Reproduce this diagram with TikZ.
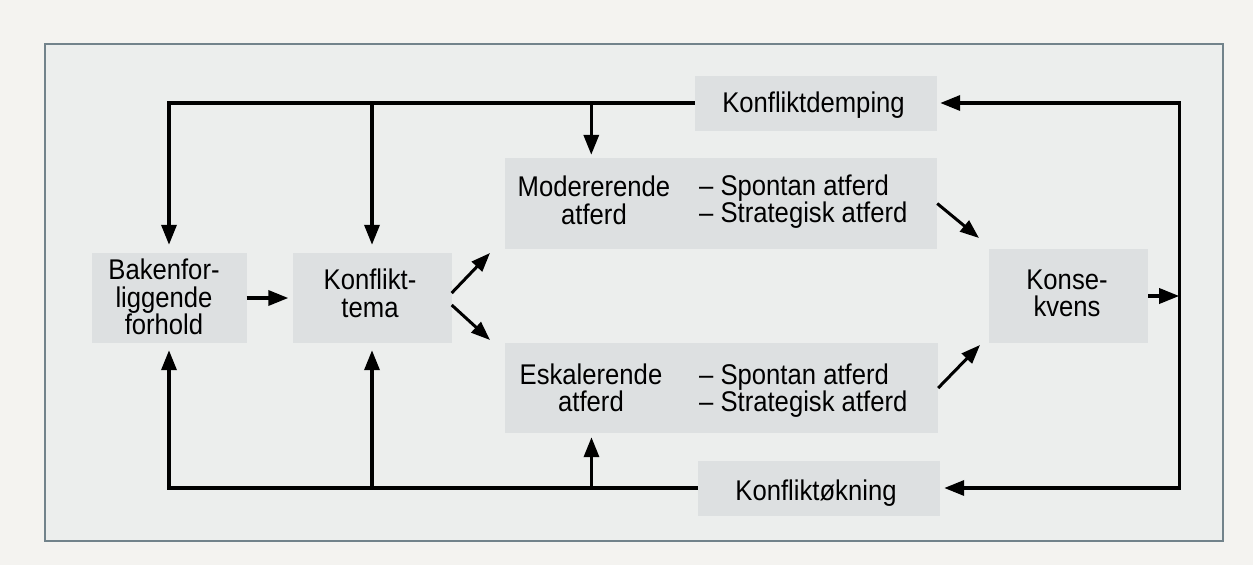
\documentclass[tikz,border=0pt]{standalone}
\usepackage{fontspec}
\setmainfont{Liberation Sans}[FakeStretch=0.9]
\usetikzlibrary{arrows.meta,calc}
\definecolor{pagebg}{HTML}{F4F3F0}
\definecolor{framebg}{HTML}{ECEEED}
\definecolor{framecol}{HTML}{72838B}
\definecolor{boxbg}{HTML}{DDE0E1}
\begin{document}
\begin{tikzpicture}[x=1pt,y=-1pt,
  box/.style={fill=boxbg,inner sep=0pt},
  lbl/.style={font=\fontsize{28.5}{27.5}\selectfont,align=center,inner sep=0pt},
  conn/.style={line width=3.4pt,-{Triangle[length=20pt,width=15pt]}},
  diag/.style={line width=3pt,-{Triangle[length=19pt,width=14pt]}}
]
\fill[pagebg] (0,0) rectangle (1253,565);
\useasboundingbox (0,0) rectangle (1253,565);
\draw[framecol,line width=2pt,fill=framebg] (45,44) rectangle (1223,541);

% boxes
\node[box,minimum width=242pt,minimum height=55pt] (dem) at (816,103) {};
\node[lbl,anchor=base] (demt) at (813.5,112) {Konfliktdemping};

\node[box,minimum width=432pt,minimum height=91pt] (mod) at (721,203.5) {};
\node[lbl] (modl) at (594,200.5) {Modererende\\atferd};
\node[lbl,anchor=west,align=left] (modr) at (699,201.8) {– Spontan atferd\\– Strategisk atferd};

\node[box,minimum width=433pt,minimum height=90pt] (esk) at (721.5,388) {};
\node[lbl] (eskl) at (591,387.8) {Eskalerende\\atferd};
\node[lbl,anchor=west,align=left] (eskr) at (699,390.8) {– Spontan atferd\\– Strategisk atferd};

\node[box,minimum width=155pt,minimum height=90pt] (bak) at (169,298) {};
\node[lbl] (bakt) at (164,297) {Bakenfor-\\liggende\\forhold};

\node[box,minimum width=159pt,minimum height=90pt] (tema) at (372,298) {};
\node[lbl] (temat) at (370,293.5) {Konflikt-\\tema};

\node[box,minimum width=159pt,minimum height=94pt] (kons) at (1068.5,296) {};
\node[lbl] (konst) at (1067,293.5) {Konse-\\kvens};

\node[box,minimum width=242pt,minimum height=55pt] (okn) at (819,488) {};
\node[lbl,anchor=base] (oknt) at (816,500) {Konfliktøkning};

% top feedback
\draw[conn,shorten >=8pt] (dem.west) -| (bak.north);
\draw[conn,shorten >=8pt] (tema.north |- dem.west) -- (tema.north);
\coordinate (modin) at ($(mod.north west)!0.2!(mod.north east)$);
\draw[conn,shorten >=3pt] (modin |- dem.west) -- (modin);

% bottom feedback
\draw[conn,shorten >=7pt] (okn.west) -| (bak.south);
\draw[conn,shorten >=7pt] (tema.south |- okn.west) -- (tema.south);
\coordinate (eskin) at ($(esk.south west)!0.2!(esk.south east)$);
\draw[conn,shorten >=4pt] (eskin |- okn.west) -- (eskin);

% right loop
\coordinate (loop) at ([xshift=31pt]kons.east);
\draw[conn] (kons.east) -- (loop);
\draw[conn,shorten >=3pt] (loop) |- (dem.east);
\draw[conn,shorten >=4pt] (loop) |- (okn.east);

% forward arrows
\draw[conn,shorten >=4pt] (bak.east) -- (tema.west);
\coordinate (d1) at (490,253);
\coordinate (d2) at (490,340);
\coordinate (d3) at (979,238);
\coordinate (d4) at (980,345);
\draw[diag] ([yshift=5pt]tema.east) -- (d1);
\draw[diag] ([yshift=-7pt]tema.east) -- (d2);
\draw[diag] (mod.east) -- (d3);
\draw[diag] (esk.east) -- (d4);
\end{tikzpicture}
\end{document}
